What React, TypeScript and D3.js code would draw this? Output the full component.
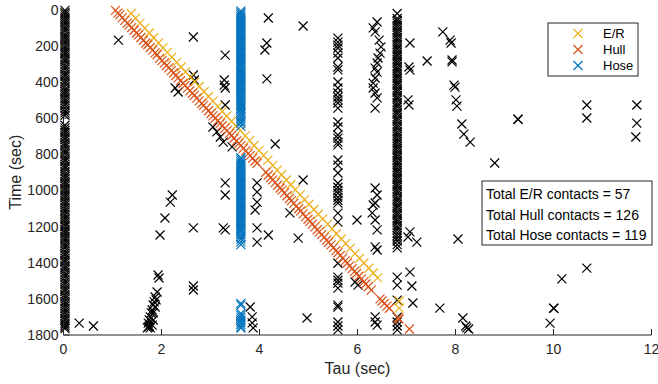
import React from "react";
import * as d3 from "d3";

const W = 658;
const H = 384;

const xTicks = [0, 2, 4, 6, 8, 10, 12];
const yTicks = [0, 200, 400, 600, 800, 1000, 1200, 1400, 1600, 1800];

const legendLabels = ["E/R", "Hull", "Hose"];
const summaryLines = [
  "Total E/R contacts = 57",
  "Total Hull contacts = 126",
  "Total Hose contacts = 119",
];

// E/R contacts [tau, time]
const erPoints: [number, number][] = [
  [1.38, 22], [1.47, 48], [1.56, 75], [1.66, 103], [1.75, 130], [1.84, 156], [1.94, 185],
  [2.03, 212], [2.12, 237], [2.21, 263], [2.31, 292], [2.40, 318], [2.49, 345], [2.59, 373],
  [2.68, 400], [2.77, 426], [2.87, 455], [2.96, 481], [3.05, 507], [3.15, 536], [3.24, 563],
  [3.33, 589], [3.43, 618], [3.52, 644], [3.61, 670], [3.71, 699], [3.80, 725], [3.89, 752],
  [3.99, 780], [4.08, 807], [4.17, 833], [4.27, 862], [4.36, 888], [4.45, 914], [4.55, 943],
  [4.64, 969], [4.73, 996], [4.83, 1025], [4.92, 1051], [5.01, 1077], [5.11, 1106], [5.20, 1132],
  [5.29, 1158], [5.39, 1187], [5.48, 1213], [5.57, 1240], [5.67, 1269], [5.76, 1295], [5.85, 1321],
  [5.95, 1350], [6.04, 1376], [6.13, 1402], [6.23, 1431], [6.32, 1457], [6.41, 1484], [6.85, 1612],
  [6.85, 1651],
];

// Hull contacts [tau, time]
const hullPoints: [number, number][] = [
  [1.06, 5], [1.11, 20], [1.15, 30], [1.20, 45], [1.25, 60], [1.30, 75], [1.34, 85], [1.39, 100],
  [1.44, 115], [1.49, 130], [1.53, 140], [1.58, 155], [1.63, 170], [1.68, 185], [1.72, 195],
  [1.77, 210], [1.82, 225], [1.87, 240], [1.91, 250], [1.96, 270], [2.01, 283], [2.06, 295],
  [2.10, 310], [2.15, 323], [2.20, 338], [2.25, 350], [2.29, 365], [2.34, 378], [2.39, 393],
  [2.44, 408], [2.48, 420], [2.53, 435], [2.58, 450], [2.63, 463], [2.67, 475], [2.72, 490],
  [2.77, 505], [2.82, 520], [2.86, 530], [2.91, 545], [2.96, 560], [3.01, 575], [3.05, 588],
  [3.10, 600], [3.15, 615], [3.20, 630], [3.24, 643], [3.29, 657], [3.34, 670], [3.39, 685],
  [3.43, 697], [3.48, 712], [3.53, 727], [3.58, 740], [3.62, 753], [3.67, 768], [3.72, 782],
  [3.77, 797], [3.81, 808], [3.86, 822], [3.91, 838], [3.95, 850],
  [4.13, 900], [4.18, 915], [4.23, 930], [4.27, 942], [4.32, 957], [4.37, 972], [4.42, 987],
  [4.46, 999], [4.51, 1014], [4.56, 1030], [4.61, 1045], [4.65, 1057], [4.70, 1072], [4.75, 1087],
  [4.80, 1102], [4.84, 1114], [4.89, 1130], [4.94, 1145], [4.99, 1160], [5.03, 1172], [5.08, 1187],
  [5.13, 1202], [5.18, 1218], [5.22, 1230], [5.27, 1245], [5.32, 1260], [5.37, 1275], [5.41, 1287],
  [5.46, 1302], [5.51, 1317], [5.56, 1333], [5.60, 1345], [5.65, 1360], [5.70, 1375], [5.75, 1390],
  [5.79, 1402], [5.84, 1418], [5.89, 1433], [5.94, 1448], [5.98, 1460], [6.03, 1475], [6.08, 1490],
  [6.13, 1506], [6.17, 1518], [6.22, 1533], [6.28, 1552],
  [6.46, 1600], [6.50, 1612], [6.55, 1625], [6.60, 1640], [6.65, 1652], [6.83, 1706], [6.85, 1712],
  [7.06, 1767],
];

// Hose contacts: one column
const hoseTau = 3.62;
const hoseTimes = [
  8, 18, 28, 38, 48, 58, 68, 78, 88, 98, 108, 118, 128, 138, 148, 158, 168, 178, 188, 198, 208,
  218, 228, 238, 248, 258, 268, 278, 290, 300, 310, 320, 330, 340, 350, 360, 370, 380, 390, 400,
  410, 420, 430, 440, 450, 460, 470, 480, 490, 500, 512, 522, 532, 545, 555, 568, 580, 592, 605,
  618, 630, 645,
  820, 830, 842, 852, 862, 872, 882, 892, 902, 912, 922, 932, 942, 952, 962, 972, 982, 992, 1002,
  1012, 1022, 1032, 1042, 1052, 1062, 1072, 1082, 1092, 1102, 1112, 1122, 1132, 1142, 1152, 1162,
  1172, 1182, 1192, 1202, 1212, 1222, 1232, 1245, 1258, 1270, 1285, 1300,
  1625, 1635, 1680, 1692, 1705, 1718, 1730, 1742, 1755, 1762,
];

// Unclassified contacts: columns
const col0Tau = 0.03;
const col0Times = [
  5, 18, 30, 42, 55, 68, 80, 95, 108, 120, 135, 148, 160, 172, 185, 200, 212, 225, 238, 250, 265,
  278, 290, 305, 318, 330, 345, 358, 370, 385, 398, 410, 425, 440, 452, 465, 478, 492, 505, 518,
  530, 545, 560, 572, 585, 640, 655, 668, 680, 695, 708, 720, 735, 748, 760, 775, 788, 800, 815,
  828, 840, 855, 868, 880, 895, 910, 922, 935, 950, 962, 975, 990, 1002, 1015, 1028, 1040, 1055,
  1068, 1080, 1095, 1108, 1120, 1135, 1148, 1160, 1175, 1188, 1200, 1215, 1228, 1240, 1255, 1268,
  1280, 1295, 1308, 1320, 1335, 1348, 1360, 1375, 1388, 1400, 1415, 1428, 1440, 1455, 1468, 1480,
  1495, 1508, 1520, 1535, 1548, 1560, 1575, 1588, 1600, 1615, 1628, 1640, 1655, 1668, 1680, 1695,
  1708, 1720, 1735, 1745, 1755, 1765,
];

const col56Tau = 5.6;
const col56Times = [
  158, 180, 197, 213, 241, 268, 318, 334, 401, 434, 462, 484, 500, 517, 545, 622, 650, 694, 711,
  733, 749, 832, 861, 904, 961, 983, 1000, 1016, 1038, 1055, 1071, 1126, 1176, 1403, 1480, 1497,
  1513, 1541, 1635, 1646, 1728, 1750, 1772,
];

const col68Tau = 6.81;
const col68Times = [
  22, 50, 62, 75, 88, 100, 115, 128, 140, 155, 168, 180, 195, 208, 220, 235, 248, 260, 275, 288,
  300, 315, 328, 340, 355, 368, 380, 395, 408, 420, 435, 448, 460, 475, 488, 500, 515, 528, 540,
  555, 568, 580, 595, 608, 620, 635, 648, 660, 675, 688, 700, 715, 728, 740, 755, 768, 780, 795,
  808, 820, 835, 848, 860, 875, 888, 900, 915, 928, 940, 955, 968, 980, 995, 1008, 1020, 1035,
  1048, 1060, 1075, 1088, 1100, 1115, 1128, 1140, 1155, 1168, 1180, 1195, 1208, 1220, 1235, 1250,
  1265, 1280, 1300, 1318, 1480, 1524, 1607, 1701, 1728, 1750, 1772,
];

// Unclassified contacts: scattered [tau, time]
const blackScatter: [number, number][] = [
  [1.12, 169], [2.65, 152], [2.65, 362], [2.67, 390], [2.28, 434], [2.34, 456], [4.18, 47],
  [4.89, 91], [4.15, 185], [4.11, 224], [4.15, 384], [3.30, 252], [3.28, 390], [3.28, 418],
  [3.30, 434], [3.30, 528], [3.05, 650], [3.13, 677], [3.20, 705], [3.26, 733], [3.44, 760],
  [4.32, 744], [3.30, 959], [3.30, 1026], [3.95, 959], [3.95, 1009], [3.95, 1065], [3.91, 1109],
  [3.26, 1208], [3.30, 1219], [3.95, 1208], [3.95, 1286], [4.18, 1247], [4.79, 1264], [4.62, 1125],
  [4.89, 943], [5.99, 1164], [3.81, 1645], [3.85, 1700], [3.85, 1733], [3.87, 1761], [4.97, 1706],
  [5.95, 1507], [6.01, 1524], [0.32, 1734], [0.61, 1750], [1.97, 1247], [2.07, 1153], [2.18, 1065],
  [2.22, 1026], [2.65, 1208], [2.65, 1529], [2.65, 1551],
  [1.93, 1468], [1.95, 1485], [1.91, 1562], [1.87, 1590], [1.85, 1617], [1.83, 1634], [1.81, 1662],
  [1.79, 1678], [1.77, 1700], [1.75, 1717], [1.73, 1734], [1.73, 1756], [1.77, 1761], [1.71, 1761],
  [1.81, 1745], [1.83, 1717], [1.83, 1678], [1.87, 1645], [1.89, 1606], [1.75, 1750],
  [7.07, 185], [7.05, 318], [7.07, 335], [7.03, 500], [7.05, 528], [7.42, 285], [7.07, 1230],
  [7.03, 1258], [7.21, 1286], [7.07, 1452], [7.11, 1529], [7.13, 1623],
  [6.40, 69], [6.32, 102], [6.36, 124], [6.44, 169], [6.48, 207], [6.46, 241], [6.42, 268],
  [6.40, 296], [6.36, 324], [6.40, 346], [6.36, 379], [6.32, 407], [6.32, 434], [6.36, 462],
  [6.40, 489], [6.36, 545], [6.36, 987], [6.40, 1026], [6.36, 1070], [6.32, 1081], [6.30, 1125],
  [6.36, 1164], [6.40, 1219], [6.36, 1313], [6.40, 1330], [6.36, 1700], [6.36, 1728], [6.40, 1745],
  [7.74, 124], [7.89, 169], [7.91, 185], [7.93, 279], [7.93, 290], [7.97, 418], [7.99, 429],
  [8.01, 500], [8.03, 534], [8.13, 633], [8.17, 689], [8.30, 733], [9.27, 606], [9.28, 608],
  [8.80, 849], [10.68, 528], [10.68, 600], [11.70, 528], [11.70, 628], [11.68, 705], [8.05, 1269],
  [10.17, 1490], [10.68, 1430], [7.68, 1651], [10.0, 1651], [10.01, 1653], [8.15, 1706],
  [8.21, 1750], [8.23, 1761], [8.27, 1767], [9.93, 1734],
];

const COLORS = { er: "#EDB120", hull: "#D95319", hose: "#0072BD", black: "#000000" };
const TEXT = "#262626";
const FONT = "'Liberation Sans', Arial, Helvetica, sans-serif";

const x = d3.scaleLinear().domain([0, 12]).range([63.5, 651.5]);
const y = d3.scaleLinear().domain([0, 1800]).range([9.5, 335]);

const M = 4.5;
const markerPath = `M${-M},${-M}L${M},${M}M${-M},${M}L${M},${-M}`;

function Marks({ pts, color }: { pts: [number, number][]; color: string }) {
  return (
    <g stroke={color} strokeWidth={1.2} fill="none">
      {pts.map(([tx, ty], i) => (
        <path key={i} d={markerPath} transform={`translate(${x(tx)},${y(ty)})`} />
      ))}
    </g>
  );
}

export default function App() {
  const blackAll: [number, number][] = [
    ...col0Times.map((t) => [col0Tau, t] as [number, number]),
    ...col56Times.map((t) => [col56Tau, t] as [number, number]),
    ...col68Times.map((t) => [col68Tau, t] as [number, number]),
    ...blackScatter,
  ];
  const hoseAll: [number, number][] = hoseTimes.map((t) => [hoseTau, t]);
  const [x0, x1] = x.range();
  const [y0, y1] = y.range();
  const legendColors = [COLORS.er, COLORS.hull, COLORS.hose];

  return (
    <svg
      width={W}
      height={H}
      style={{ position: "absolute", left: 0, top: 0, background: "#fff" }}
      fontFamily={FONT}
    >
      <rect x={0} y={0} width={W} height={H} fill="#fff" />
      <Marks pts={blackAll} color={COLORS.black} />
      <Marks pts={erPoints} color={COLORS.er} />
      <Marks pts={hullPoints} color={COLORS.hull} />
      <Marks pts={hoseAll} color={COLORS.hose} />

      {/* axes */}
      <g stroke={TEXT} strokeWidth={1}>
        <line x1={x0} x2={x0} y1={y0} y2={y1} />
        <line x1={x0} x2={x1} y1={y1} y2={y1} />
        {xTicks.map((t) => (
          <line key={t} x1={x(t)} x2={x(t)} y1={y1} y2={y1 - 6} />
        ))}
        {yTicks.map((t) => (
          <line key={t} x1={x0} x2={x0 + 6} y1={y(t)} y2={y(t)} />
        ))}
      </g>
      <g fill={TEXT} fontSize={14}>
        {xTicks.map((t) => (
          <text key={t} x={x(t)} y={354} textAnchor="middle">
            {t}
          </text>
        ))}
        {yTicks.map((t) => (
          <text key={t} x={58.5} y={y(t) + 5} textAnchor="end">
            {t}
          </text>
        ))}
      </g>
      <text x={(x0 + x1) / 2} y={374} textAnchor="middle" fontSize={16} fill={TEXT}>
        Tau (sec)
      </text>
      <text
        transform={`translate(21,${(y0 + y1) / 2}) rotate(-90)`}
        textAnchor="middle"
        fontSize={16}
        fill={TEXT}
      >
        Time (sec)
      </text>

      {/* legend */}
      <rect x={548} y={23} width={90} height={53} fill="#fff" stroke={TEXT} strokeWidth={1} />
      {legendLabels.map((lab, i) => {
        const cy = 33.5 + i * 16;
        return (
          <g key={lab}>
            <path d={markerPath} transform={`translate(578,${cy})`} stroke={legendColors[i]} strokeWidth={1.2} fill="none" />
            <text x={603} y={cy + 4.5} fontSize={13} fill="#000">
              {lab}
            </text>
          </g>
        );
      })}

      {/* summary box */}
      <rect x={482} y={181} width={170} height={64} fill="#fff" stroke={TEXT} strokeWidth={1} />
      {summaryLines.map((s, i) => (
        <text key={s} x={486} y={199 + i * 20.5} fontSize={14} fill="#000">
          {s}
        </text>
      ))}
    </svg>
  );
}
